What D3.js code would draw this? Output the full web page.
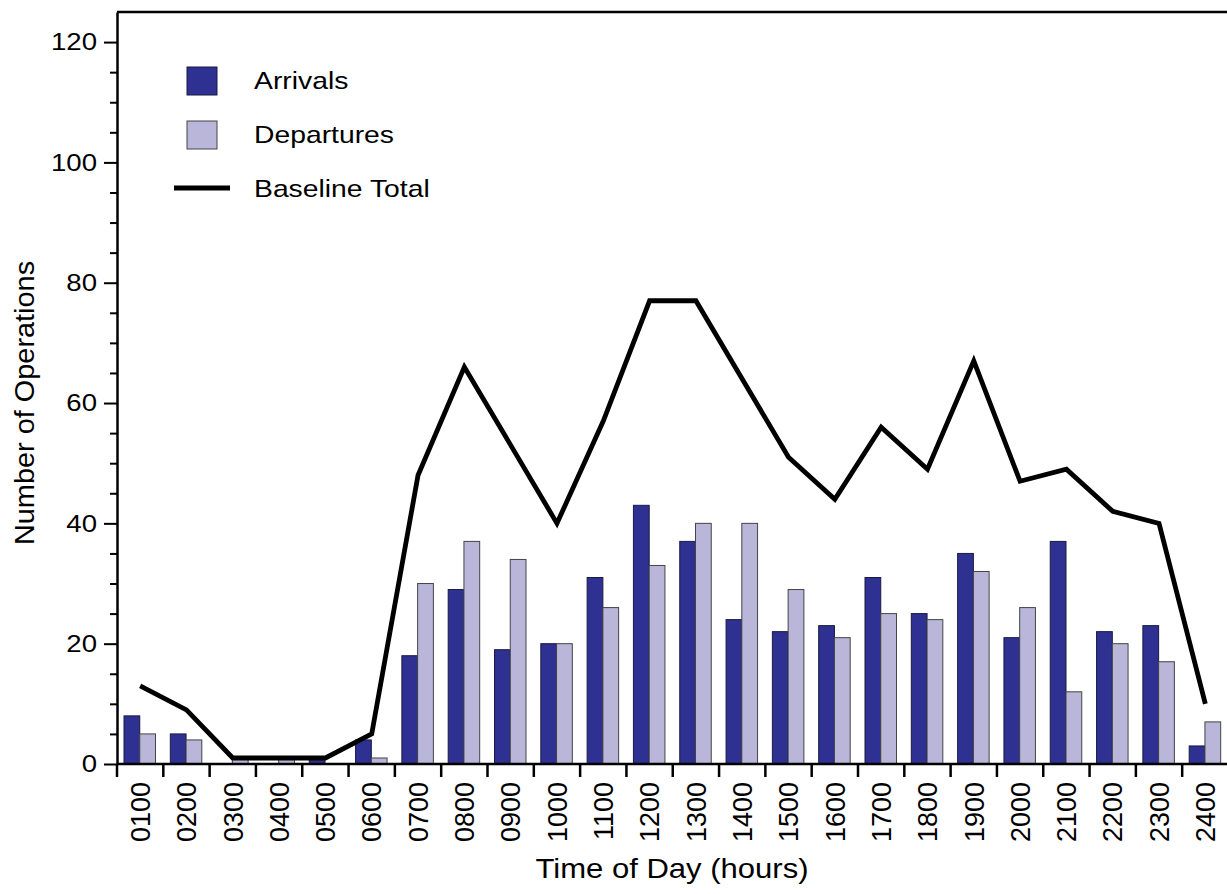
<!DOCTYPE html>
<html>
<head>
<meta charset="utf-8">
<script src="https://cdn.jsdelivr.net/npm/d3@7"></script>
<style>
  html, body { margin: 0; padding: 0; background: #fff; }
  svg { display: block; }
  text { font-family: "Liberation Sans", Arial, Helvetica, sans-serif; fill: #000; }
</style>
</head>
<body>
<svg id="chart" width="1227" height="894"></svg>
<script>
const hours = ["0100","0200","0300","0400","0500","0600","0700","0800","0900","1000","1100","1200",
               "1300","1400","1500","1600","1700","1800","1900","2000","2100","2200","2300","2400"];
const arrivals   = [8, 5, 0, 0, 1, 4, 18, 29, 19, 20, 31, 43, 37, 24, 22, 23, 31, 25, 35, 21, 37, 22, 23, 3];
const departures = [5, 4, 1, 1, 0, 1, 30, 37, 34, 20, 26, 33, 40, 40, 29, 21, 25, 24, 32, 26, 12, 20, 17, 7];
const baselineTotal = [13, 9, 1, 1, 1, 5, 48, 66, 53, 40, 57, 77, 77, 64, 51, 44, 56, 49, 67, 47, 49, 42, 40, 10];
const yMajorTicks = [0, 20, 40, 60, 80, 100, 120];
const seriesNames = ["Arrivals", "Departures", "Baseline Total"];

(function () {
const colArr = "#2E3192", colDep = "#B9B6DA";
const svg = d3.select("#chart");
const mLeft = 117, mTop = 12, mBottom = 764, mRight = 1228.5;

const x = d3.scaleBand().domain(hours).range([mLeft, mRight]).padding(0);
const inner = d3.scaleBand().domain(["arr","dep"]).range([7, 38.5]).padding(0);
const y = d3.scaleLinear().domain([0, 125]).range([mBottom, mTop]);

// bars
const g = svg.append("g");
hours.forEach((h, i) => {
  const vals = [["arr", arrivals[i], colArr, "#1a1a40"], ["dep", departures[i], colDep, "#444"]];
  vals.forEach(([k, v, c, s]) => {
    if (v <= 0) return;
    g.append("rect")
      .attr("x", x(h) + inner(k))
      .attr("y", y(v))
      .attr("width", inner.bandwidth())
      .attr("height", y(0) - y(v))
      .attr("fill", c)
      .attr("stroke", s)
      .attr("stroke-width", 1);
  });
});

// line
const line = d3.line().x((d, i) => x(hours[i]) + x.bandwidth() / 2).y(d => y(d));
svg.append("path").datum(baselineTotal)
  .attr("d", line).attr("fill", "none").attr("stroke", "#000")
  .attr("stroke-width", 4.8).attr("stroke-linejoin", "miter");

// frame top
svg.append("line").attr("x1", mLeft).attr("x2", 1227).attr("y1", mTop).attr("y2", mTop)
  .attr("stroke", "#000").attr("stroke-width", 2.5);

// y axis
const ySx = 1.15;
const yAxis = svg.append("g").attr("transform", `translate(${mLeft},0)`)
  .call(d3.axisLeft(y).tickValues(yMajorTicks).tickSize(13).tickPadding(7).tickSizeOuter(0));
yAxis.select(".domain").attr("stroke-width", 2.5);
yAxis.selectAll(".tick line").attr("stroke-width", 2);
yAxis.selectAll(".tick text").style("font-size", "24px")
  .attr("transform", `scale(${ySx},1)`).attr("x", -20 / ySx);
const minor = d3.range(5, 120, 5).filter(v => v % 20 !== 0);
svg.append("g").attr("transform", `translate(${mLeft},0)`)
  .call(d3.axisLeft(y).tickValues(minor).tickSize(7).tickFormat(""))
  .call(s => s.select(".domain").remove())
  .selectAll(".tick line").attr("stroke-width", 2);

// x axis baseline + ticks at boundaries
svg.append("line").attr("x1", mLeft).attr("x2", 1227).attr("y1", mBottom).attr("y2", mBottom)
  .attr("stroke", "#000").attr("stroke-width", 2.5);
const bounds = hours.map(h => x(h)).concat([mRight]);
svg.append("g").selectAll("line").data(bounds).join("line")
  .attr("x1", d => d).attr("x2", d => d).attr("y1", mBottom).attr("y2", mBottom + 13)
  .attr("stroke", "#000").attr("stroke-width", 2.5);
svg.append("g").selectAll("text").data(hours).join("text")
  .attr("transform", d => `translate(${x(d) + x.bandwidth() / 2},782) rotate(-90)`)
  .attr("text-anchor", "end").attr("dy", "0.36em")
  .style("font-size", "27px").text(d => d);

// axis titles
svg.append("text").attr("transform", "translate(672,878) scale(1.15,1)").attr("text-anchor", "middle")
  .style("font-size", "27px").text("Time of Day (hours)");
svg.append("text").attr("transform", "translate(34,403) rotate(-90) scale(1.07,1)").attr("text-anchor", "middle")
  .style("font-size", "27px").text("Number of Operations");

// legend
const lg = svg.append("g");
const legY = [81, 135, 189];
lg.append("rect").attr("x", 187).attr("y", legY[0] - 14).attr("width", 30).attr("height", 28)
  .attr("fill", colArr).attr("stroke", "#1a1a40").attr("stroke-width", 1);
lg.append("rect").attr("x", 187).attr("y", legY[1] - 14).attr("width", 30).attr("height", 28)
  .attr("fill", colDep).attr("stroke", "#444").attr("stroke-width", 1);
lg.append("line").attr("x1", 174).attr("x2", 230).attr("y1", legY[2] - 1).attr("y2", legY[2] - 1)
  .attr("stroke", "#000").attr("stroke-width", 4.8);
lg.selectAll("text").data(seriesNames).join("text")
  .attr("transform", (d, i) => `translate(254,${legY[i]}) scale(1.18,1)`).attr("dy", "0.35em")
  .style("font-size", "24px").text(d => d);
})();
</script>
</body>
</html>
